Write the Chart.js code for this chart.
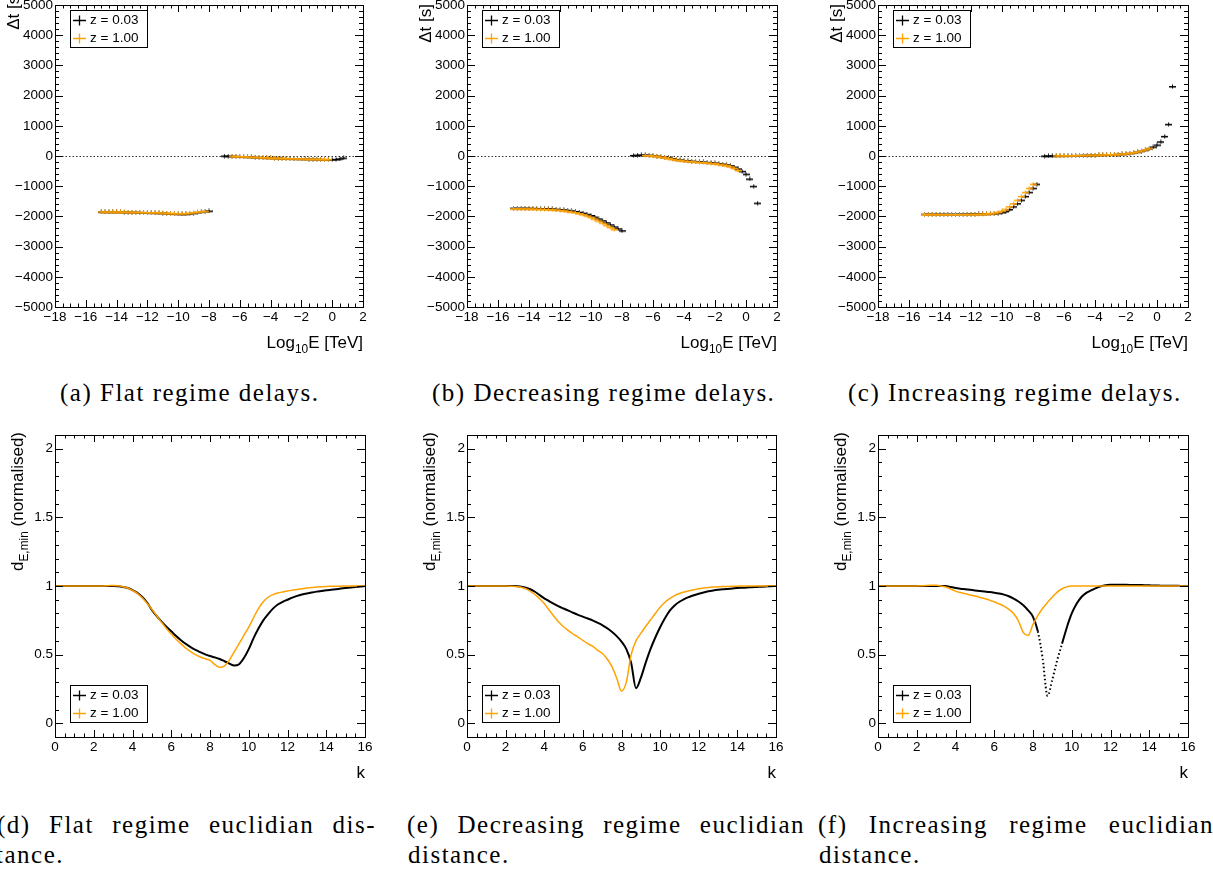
<!DOCTYPE html>
<html>
<head>
<meta charset="utf-8">
<script src="https://cdn.jsdelivr.net/npm/chart.js@4.4.0/dist/chart.umd.min.js"></script>
<style>
  html, body { margin: 0; padding: 0; background: #fff; }
  body { width: 1213px; height: 873px; position: relative; overflow: hidden; }
  canvas { position: absolute; }
  .cap { position: absolute; font-family: "Liberation Serif", serif; font-size: 25px; letter-spacing: 1.5px;
         line-height: 30px; white-space: nowrap; color: #000; }
  .just { white-space: normal; text-align: justify; text-align-last: justify; }
</style>
</head>
<body>
<canvas id="pa" width="385" height="360" style="left:0;top:0"></canvas>
<canvas id="pb" width="385" height="360" style="left:412px;top:0"></canvas>
<canvas id="pc" width="385" height="360" style="left:823px;top:0"></canvas>
<canvas id="pd" width="385" height="360" style="left:0;top:430px"></canvas>
<canvas id="pe" width="385" height="360" style="left:412px;top:430px"></canvas>
<canvas id="pf" width="385" height="360" style="left:823px;top:430px"></canvas>

<div class="cap" style="left:60px;top:378px">(a) Flat regime delays.</div>
<div class="cap" style="left:432px;top:378px">(b) Decreasing regime delays.</div>
<div class="cap" style="left:848px;top:378px">(c) Increasing regime delays.</div>
<div class="cap just" style="left:-3px;top:810px;width:379px">(d) Flat regime euclidian dis-</div>
<div class="cap" style="left:-4px;top:840px">tance.</div>
<div class="cap just" style="left:407px;top:810px;width:398px">(e) Decreasing regime euclidian</div>
<div class="cap" style="left:408px;top:840px">distance.</div>
<div class="cap just" style="left:818px;top:810px;width:396px">(f) Increasing regime euclidian</div>
<div class="cap" style="left:819px;top:840px">distance.</div>

<script>
// energy bins (log10 E / TeV) for the two branches of the delay plots
const lowE = [-15, -14.75, -14.5, -14.25, -14, -13.75, -13.5, -13.25, -13, -12.75, -12.5, -12.25, -12, -11.75, -11.5,
  -11.25, -11, -10.75, -10.5, -10.25, -10, -9.75, -9.5, -9.25, -9, -8.75, -8.5, -8.25, -8, -7.75];
const highE = [-7.25, -7, -6.75, -6.5, -6.25, -6, -5.75, -5.5, -5.25, -5, -4.75, -4.5, -4.25, -4, -3.75, -3.5, -3.25,
  -3, -2.75, -2.5, -2.25, -2, -1.75, -1.5, -1.25, -1, -0.75, -0.5, -0.25, 0, 0.25, 0.5, 0.75, 1];

// delays [s], flat regime
const flatLowZ003 = [-1850, -1850, -1851, -1852, -1853, -1854, -1856, -1858, -1860, -1862, -1865, -1868, -1871, -1875,
  -1879, -1884, -1889, -1895, -1902, -1909, -1915, -1919, -1917, -1906, -1888, -1866, -1846, -1830, -1820];
const flatLowZ100 = [-1848, -1848, -1849, -1850, -1851, -1852, -1854, -1856, -1858, -1860, -1862, -1865, -1868, -1871,
  -1875, -1879, -1884, -1889, -1895, -1900, -1904, -1905, -1900, -1888, -1870, -1852, -1838, -1828];
const flatHighZ003 = [null, 0, -3, -6, -10, -15, -20, -26, -32, -38, -44, -50, -56, -62, -67, -72, -76, -80, -84, -88,
  -91, -94, -97, -100, -103, -106, -109, -112, -114, -115, -110, -95, -65];
const flatHighZ100 = [null, null, null, -6, -10, -15, -20, -26, -32, -38, -44, -50, -56, -62, -67, -72, -76, -80, -84,
  -88, -91, -94, -97, -100, -103, -106, -108, -110, -112];

// delays [s], decreasing regime
const decLowZ003 = [-1725, -1726, -1727, -1728, -1730, -1732, -1735, -1738, -1742, -1747, -1753, -1761, -1770, -1782,
  -1796, -1814, -1835, -1860, -1890, -1927, -1970, -2020, -2080, -2143, -2210, -2278, -2345, -2410, -2475];
const decLowZ100 = [-1745, -1746, -1747, -1748, -1750, -1752, -1755, -1758, -1763, -1769, -1776, -1785, -1795, -1810,
  -1828, -1850, -1875, -1905, -1940, -1982, -2030, -2088, -2150, -2218, -2290, -2360, -2430];
const decHighZ003 = [20, 30, 35, 35, 30, 15, 0, -20, -40, -60, -85, -110, -130, -145, -158, -168, -178, -188, -197, -207,
  -218, -230, -245, -265, -290, -320, -365, -425, -505, -600, -760, -1000, -1560];
const decHighZ100 = [null, null, null, 20, 15, 5, -10, -30, -55, -80, -105, -130, -150, -163, -175, -185, -195, -205,
  -215, -225, -238, -252, -268, -290, -318, -355, -405, -480];

// delays [s], increasing regime
const incLowZ003 = [-1925, -1925, -1925, -1925, -1925, -1925, -1925, -1925, -1925, -1924, -1924, -1923, -1922, -1921,
  -1920, -1918, -1915, -1910, -1902, -1890, -1870, -1835, -1770, -1680, -1575, -1460, -1335, -1200, -1065, -930];
const incLowZ100 = [-1935, -1935, -1935, -1935, -1935, -1935, -1935, -1935, -1935, -1934, -1934, -1933, -1932, -1930,
  -1927, -1922, -1915, -1905, -1888, -1862, -1820, -1760, -1675, -1575, -1460, -1335, -1200, -1065, -930];
const incHighZ003 = [0, 5, 8, 10, 12, 14, 16, 18, 20, 22, 25, 28, 30, 33, 36, 40, 44, 48, 53, 58, 68, 77, 92, 110, 135,
  165, 200, 245, 300, 365, 470, 650, 1050, 2300];
const incHighZ100 = [null, null, null, 10, 12, 14, 16, 18, 20, 22, 25, 28, 30, 33, 36, 40, 44, 48, 53, 60, 70, 80, 95,
  115, 140, 170, 210, 260];

// k values for the distance scans
const kGrid = [0, 0.25, 0.5, 0.75, 1, 1.25, 1.5, 1.75, 2, 2.25, 2.5, 2.75, 3, 3.25, 3.5, 3.75, 4, 4.25, 4.5, 4.75, 5,
  5.25, 5.5, 5.75, 6, 6.25, 6.5, 6.75, 7, 7.25, 7.5, 7.75, 8, 8.25, 8.5, 8.75, 9, 9.25, 9.5, 9.75, 10, 10.25, 10.5,
  10.75, 11, 11.25, 11.5, 11.75, 12, 12.25, 12.5, 12.75, 13, 13.25, 13.5, 13.75, 14, 14.25, 14.5, 14.75, 15, 15.25,
  15.5, 15.75, 16];

// normalised minimum euclidian distance
const flatDistZ003 = [1, 1, 1, 1, 1, 1, 1, 1, 1, 1, 1, 1, 1, 0.998, 0.993, 0.985, 0.97, 0.95, 0.92, 0.88, 0.825, 0.78,
  0.74, 0.703, 0.67, 0.635, 0.605, 0.578, 0.555, 0.535, 0.518, 0.502, 0.49, 0.48, 0.468, 0.452, 0.435, 0.42, 0.43,
  0.475, 0.54, 0.62, 0.69, 0.75, 0.795, 0.835, 0.865, 0.885, 0.9, 0.915, 0.928, 0.938, 0.946, 0.953, 0.959, 0.964,
  0.969, 0.973, 0.977, 0.981, 0.985, 0.989, 0.993, 0.997, 1];
const flatDistZ100 = [1, 1, 1, 1, 1, 1, 1, 1, 1, 1, 1, 1.002, 1.004, 1.002, 0.995, 0.985, 0.968, 0.947, 0.915, 0.875,
  0.83, 0.782, 0.735, 0.69, 0.65, 0.612, 0.578, 0.548, 0.522, 0.5, 0.483, 0.47, 0.458, 0.428, 0.408, 0.418, 0.46, 0.52,
  0.58, 0.64, 0.7, 0.77, 0.835, 0.885, 0.918, 0.937, 0.949, 0.957, 0.964, 0.97, 0.975, 0.98, 0.985, 0.989, 0.992,
  0.995, 0.997, 0.998, 0.999, 0.999, 1, 1, 1, 1, 1];
const decDistZ003 = [1, 1, 1, 1, 1, 1, 1, 1, 1, 1, 1, 0.997, 0.99, 0.978, 0.96, 0.935, 0.91, 0.89, 0.87, 0.852, 0.836,
  0.82, 0.805, 0.79, 0.777, 0.763, 0.75, 0.733, 0.715, 0.693, 0.667, 0.635, 0.595, 0.54, 0.44, 0.255, 0.33, 0.44, 0.54,
  0.625, 0.7, 0.765, 0.82, 0.858, 0.885, 0.905, 0.92, 0.933, 0.944, 0.953, 0.961, 0.967, 0.972, 0.976, 0.979, 0.982,
  0.985, 0.987, 0.989, 0.991, 0.993, 0.995, 0.997, 0.999, 1];
const decDistZ100 = [1, 1, 1, 1, 1, 1, 1, 1, 1, 0.999, 0.997, 0.992, 0.982, 0.965, 0.94, 0.908, 0.872, 0.825, 0.78,
  0.738, 0.703, 0.675, 0.65, 0.628, 0.604, 0.58, 0.562, 0.533, 0.51, 0.47, 0.415, 0.33, 0.235, 0.3, 0.5, 0.6, 0.655,
  0.705, 0.752, 0.8, 0.846, 0.882, 0.908, 0.93, 0.945, 0.956, 0.965, 0.973, 0.98, 0.985, 0.989, 0.992, 0.994, 0.996,
  0.997, 0.998, 0.999, 1, 1, 1, 1, 1, 1, 1, 1];
const incDistZ003 = [1, 1, 1, 1, 1, 1, 1, 1, 1, 1, 1, 1, 1, 1, 1, 0.992, 0.985, 0.98, 0.976, 0.972, 0.968, 0.964, 0.96,
  0.956, 0.951, 0.945, 0.937, 0.925, 0.908, 0.887, 0.86, 0.823, 0.775, 0.67, 0.47, 0.2, 0.32, 0.46, 0.58, 0.7, 0.8,
  0.87, 0.92, 0.95, 0.968, 0.985, 0.998, 1.006, 1.009, 1.01, 1.01, 1.009, 1.008, 1.008, 1.007, 1.006, 1.005, 1.004,
  1.003, 1.002, 1.002, 1.001, 1.001, 1, 1];
const incDistZ100 = [1, 1, 1, 1, 1, 1, 1, 1, 1, 1.002, 1.004, 1.005, 1.005, 1, 0.993, 0.978, 0.963, 0.952, 0.943,
  0.935, 0.927, 0.918, 0.909, 0.897, 0.885, 0.87, 0.853, 0.83, 0.8, 0.745, 0.66, 0.64, 0.72, 0.785, 0.838, 0.88, 0.92,
  0.955, 0.98, 0.995, 1, 1, 1, 1, 1, 1, 1, 1, 1, 1, 1, 1, 1, 1, 1, 1, 1, 1, 1, 1, 1, 1, 1, 1, 1];

const BLACK = '#000000';
const ORANGE = '#ffa200';
const SANS = '"Liberation Sans", Arial, sans-serif';

// small "+" marker: bin-width bar with a short error bar
function marker(color) {
  const c = document.createElement('canvas');
  c.width = 7; c.height = 5;
  const g = c.getContext('2d');
  g.fillStyle = color;
  g.fillRect(0, 2, 7, 1.5);
  g.fillRect(3, 0.5, 1, 4);
  return c;
}
const markBlack = marker(BLACK);
const markOrange = marker(ORANGE);

function pts(xs, ys) {
  return ys.map((y, i) => (y === null ? null : { x: xs[i], y: y })).filter(p => p);
}

function minus(v) { return String(v).replace('-', '\u2212'); }

// labelled ticks only at multiples of the major step
function majorTicks(step) {
  return scale => {
    const out = [];
    const i0 = Math.ceil(scale.min / step - 1e-9), i1 = Math.floor(scale.max / step + 1e-9);
    for (let i = i0; i <= i1; i++) out.push({ value: Math.round(i * step * 1000) / 1000 });
    scale.ticks = out;
  };
}

// text with optional subscript runs, e.g. Log_10 E
function richWidth(ctx, parts, size) {
  let w = 0;
  parts.forEach(p => {
    ctx.font = (p.sub ? size * 0.7 : size) + 'px ' + SANS;
    w += ctx.measureText(p.t).width;
  });
  return w;
}
function drawRich(ctx, parts, x, y, size) {
  parts.forEach(p => {
    ctx.font = (p.sub ? size * 0.7 : size) + 'px ' + SANS;
    ctx.fillText(p.t, x, p.sub ? y + size * 0.28 : y);
    x += ctx.measureText(p.t).width;
  });
}

function eachTick(scale, major, minor, fn) {
  const i0 = Math.ceil(scale.min / minor - 1e-9), i1 = Math.floor(scale.max / minor + 1e-9);
  for (let i = i0; i <= i1; i++) {
    const v = i * minor;
    fn(scale.getPixelForValue(v), Math.abs(v / major - Math.round(v / major)) < 1e-6);
  }
}

// frame, inward ticks on all sides, axis titles and boxed legend
const rootFrame = {
  id: 'rootFrame',
  beforeDatasetsDraw(chart, args, o) {
    if (!o.zeroLine) return;
    const { ctx, chartArea: a, scales: { y } } = chart;
    const py = Math.round(y.getPixelForValue(0)) + 0.5;
    ctx.save();
    ctx.strokeStyle = '#333';
    ctx.lineWidth = 1;
    ctx.setLineDash([1.5, 2]);
    ctx.beginPath();
    ctx.moveTo(a.left, py);
    ctx.lineTo(a.right, py);
    ctx.stroke();
    ctx.restore();
  },
  afterDraw(chart, args, o) {
    const { ctx, chartArea: a, scales: { x, y } } = chart;
    ctx.save();
    ctx.strokeStyle = '#000';
    ctx.lineWidth = 1;
    ctx.strokeRect(a.left + 0.5, a.top + 0.5, a.right - a.left, a.bottom - a.top);
    ctx.beginPath();
    eachTick(x, o.xMajor, o.xMinor, (px, major) => {
      const len = major ? 7 : 3.5, xx = Math.round(px) + 0.5;
      ctx.moveTo(xx, a.bottom); ctx.lineTo(xx, a.bottom - len);
      ctx.moveTo(xx, a.top); ctx.lineTo(xx, a.top + len);
    });
    eachTick(y, o.yMajor, o.yMinor, (py, major) => {
      const len = major ? 8 : 4, yy = Math.round(py) + 0.5;
      ctx.moveTo(a.left, yy); ctx.lineTo(a.left + len, yy);
      ctx.moveTo(a.right, yy); ctx.lineTo(a.right - len, yy);
    });
    ctx.stroke();

    // axis titles
    ctx.fillStyle = '#000';
    ctx.textBaseline = 'alphabetic';
    ctx.textAlign = 'left';
    const xs = 17;
    drawRich(ctx, o.xTitle, a.right - richWidth(ctx, o.xTitle, xs), a.bottom + 41, xs);
    ctx.save();
    ctx.translate(a.left + o.yTitleX, a.top + o.yTitleEnd);
    ctx.rotate(-Math.PI / 2);
    drawRich(ctx, o.yTitle, -richWidth(ctx, o.yTitle, xs), 0, xs);
    ctx.restore();

    // legend box
    const bx = a.left + 15, bw = 77, bh = 37;
    const by = o.legend === 'top' ? a.top + 5 : a.bottom - 15 - bh;
    ctx.fillStyle = '#fff';
    ctx.fillRect(bx, by, bw, bh);
    ctx.strokeStyle = '#000';
    ctx.strokeRect(bx + 0.5, by + 0.5, bw, bh);
    [['z = 0.03', BLACK, 9.5], ['z = 1.00', ORANGE, 28]].forEach(([txt, col, dy]) => {
      const cy = Math.round(by + dy) + 0.5;
      ctx.strokeStyle = col;
      ctx.lineWidth = 1.3;
      ctx.beginPath();
      ctx.moveTo(bx + 3, cy); ctx.lineTo(bx + 16, cy);
      ctx.moveTo(bx + 9.5, cy - 5); ctx.lineTo(bx + 9.5, cy + 5);
      ctx.stroke();
      ctx.fillStyle = '#000';
      ctx.font = '13.5px ' + SANS;
      ctx.textBaseline = 'middle';
      ctx.fillText(txt, bx + 20, cy);
    });
    ctx.restore();
  }
};

function makePanel(id, cfg) {
  const tickFont = { family: SANS, size: 13.5 };
  return new Chart(document.getElementById(id), {
    type: 'scatter',
    data: { datasets: cfg.datasets },
    options: {
      responsive: false,
      animation: false,
      events: [],
      layout: { padding: { left: 0, right: cfg.padRight, top: 5, bottom: 0 } },
      plugins: { legend: { display: false }, tooltip: { enabled: false }, rootFrame: cfg.frame },
      scales: {
        x: {
          type: 'linear', bounds: 'data', min: cfg.x[0], max: cfg.x[1],
          grid: { display: false, drawTicks: false }, border: { display: false },
          ticks: { autoSkip: false, maxRotation: 0, padding: 2, color: '#000', font: tickFont, callback: minus },
          afterBuildTicks: majorTicks(cfg.frame.xMajor),
          afterFit: s => { s.height = 53; s.paddingLeft = 0; s.paddingRight = 0; }
        },
        y: {
          type: 'linear', bounds: 'data', min: cfg.y[0], max: cfg.y[1],
          grid: { display: false, drawTicks: false }, border: { display: false },
          ticks: { autoSkip: false, padding: 2, color: '#000', font: tickFont, callback: minus },
          afterBuildTicks: majorTicks(cfg.frame.yMajor),
          afterFit: s => { s.width = 55; s.paddingTop = 0; s.paddingBottom = 0; }
        }
      }
    },
    plugins: [rootFrame]
  });
}

function delayPanel(id, padRight, lowBlack, lowOrange, highBlack, highOrange, titleEnd) {
  const set = (data, mark) => ({ data: data, pointStyle: mark, pointRadius: 3, showLine: false });
  makePanel(id, {
    padRight: padRight,
    x: [-18, 2], y: [-5000, 5000],
    frame: {
      xMajor: 2, xMinor: 0.5, yMajor: 1000, yMinor: 200, zeroLine: true, legend: 'top',
      xTitle: [{ t: 'Log' }, { t: '10', sub: true }, { t: 'E [TeV]' }],
      yTitle: [{ t: '\u0394t [s]' }], yTitleX: -36, yTitleEnd: titleEnd
    },
    datasets: [
      set(pts(lowE, lowOrange), markOrange), set(pts(highE, highOrange), markOrange),
      set(pts(lowE, lowBlack), markBlack), set(pts(highE, highBlack), markBlack)
    ]
  });
}

function distPanel(id, padRight, black, orange, dotted) {
  const line = (ys, col, w, seg) => ({
    data: pts(kGrid, ys), showLine: true, pointRadius: 0, borderColor: col, borderWidth: w,
    cubicInterpolationMode: 'monotone', segment: seg || {}
  });
  const dots = dotted ? {
    borderDash: c => (kGrid[c.p0DataIndex] >= dotted[0] && kGrid[c.p1DataIndex] <= dotted[1] ? [1.5, 2.5] : undefined)
  } : null;
  makePanel(id, {
    padRight: padRight,
    x: [0, 16], y: [-0.1, 2.1],
    frame: {
      xMajor: 2, xMinor: 0.5, yMajor: 0.5, yMinor: 0.1, zeroLine: false, legend: 'bottom',
      xTitle: [{ t: 'k' }],
      yTitle: [{ t: 'd' }, { t: 'E,min', sub: true }, { t: ' (normalised)' }], yTitleX: -32, yTitleEnd: -3
    },
    datasets: [line(orange, ORANGE, 1.5), line(black, BLACK, 2, dots)]
  });
}

delayPanel('pa', 22, flatLowZ003, flatLowZ100, flatHighZ003, flatHighZ100, -14);
delayPanel('pb', 20, decLowZ003, decLowZ100, decHighZ003, decHighZ100, -1);
delayPanel('pc', 20, incLowZ003, incLowZ100, incHighZ003, incHighZ100, -1);
distPanel('pd', 20, flatDistZ003, flatDistZ100, null);
distPanel('pe', 21, decDistZ003, decDistZ100, null);
distPanel('pf', 20, incDistZ003, incDistZ100, [8.25, 9.5]);
</script>
</body>
</html>
